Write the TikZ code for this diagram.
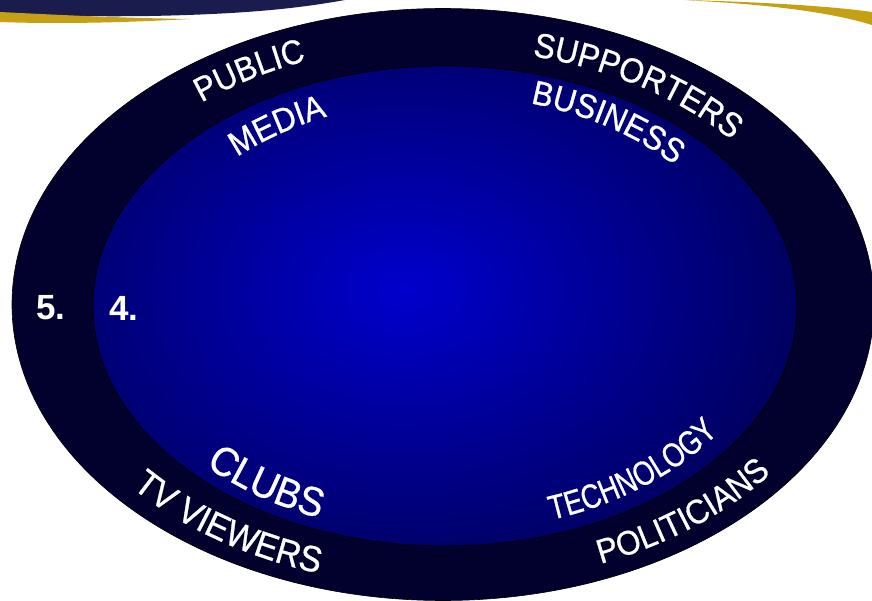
\documentclass[tikz,border=0pt]{standalone}
\usepackage{fontspec}
\setmainfont{Liberation Sans}
\newfontfamily\wordart[FakeStretch=0.92,FakeBold=0.8]{Liberation Sans}
\newfontfamily\wordartnarrow[FakeStretch=0.8,FakeBold=0.8]{Liberation Sans}
\usetikzlibrary{decorations.text}
\definecolor{outerfill}{RGB}{2,1,46}
\definecolor{glowin}{RGB}{0,0,205}
\definecolor{glowout}{RGB}{0,0,84}
\definecolor{gold}{RGB}{198,160,20}
\definecolor{swoosh}{RGB}{26,28,78}
\tikzset{
  curvedword/.style n args={3}{decorate, decoration={text along path, text align=center, text color=white,
      text={|#3\fontsize{#1}{#1}\selectfont|#2}}},
  numlabel/.style={text=white, font=\bfseries\fontsize{35}{35}\selectfont, inner sep=0pt},
}
% size, ry of baseline, start angle, end angle, text [, font family]
\newcommand\arcword[6][\wordart]{%
  \path[shift={(445,-306)}, curvedword={#2}{#6}{#1}]
    (#4:{1.46*#3} and #3) arc[start angle=#4, end angle=#5, x radius={1.46*#3}, y radius=#3];}
\begin{document}
\begin{tikzpicture}[x=1pt,y=1pt]
\useasboundingbox (0,0) rectangle (872,-601);
\clip (0,0) rectangle (872,-601);
\fill[white] (0,0) rectangle (872,-601);
% top decorations
\fill[swoosh] (0,0) -- (345,0) .. controls (300,-8) and (250,-14) .. (150,-16)
   .. controls (80,-17) and (30,-15) .. (0,-13) -- cycle;
\fill[gold] (0,-12) .. controls (60,-15) and (120,-18) .. (190,-19)
   .. controls (120,-23) and (50,-24) .. (0,-22) -- cycle;
\fill[gold] (685,0) .. controls (760,-2) and (830,-6) .. (872,-12) -- (872,-25)
   .. controls (830,-12) and (770,-5) .. (700,-1) -- cycle;
% outer ring
\fill[outerfill] (443,-304.5) ellipse [x radius=431, y radius=296];
\draw[black, line width=0.6] (443,-304.5) ellipse [x radius=431, y radius=296];
% inner glow
\begin{scope}
  \clip (445,-306) ellipse [x radius=352, y radius=240];
  \shade[inner color=glowin, outer color=glowout] (405,-290) ellipse [x radius=440, y radius=320];
\end{scope}
\draw[black, line width=0.8] (445,-306) ellipse [x radius=352, y radius=240];
% outer-band words
\arcword{34}{263}{141}{101}{PUBLIC}
\arcword{34.5}{257}{84}{31}{SUPPORTERS}
\arcword{36.5}{281}{208}{262}{TV VIEWERS}
\arcword{34}{279}{283}{335}{POLITICIANS}
% inner words
\arcword{34}{206}{143}{105}{MEDIA}
\arcword{34}{211}{82}{32}{BUSINESS}
\arcword{41}{229}{211}{259}{CLUBS}
\arcword[\wordartnarrow]{34}{226}{281}{336}{TECHNOLOGY}
% numbers
\node[numlabel] (five) at (51,-308) {5.};
\node[numlabel] (four) at (124,-308) {4.};
\end{tikzpicture}
\end{document}
